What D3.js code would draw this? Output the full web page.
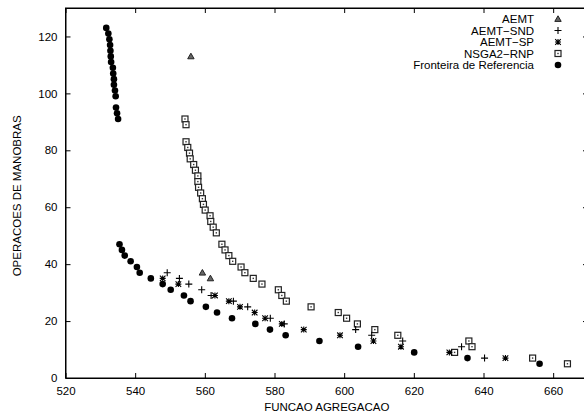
<!DOCTYPE html>
<html>
<head>
<meta charset="utf-8">
<script src="https://cdn.jsdelivr.net/npm/d3@7"></script>
<style>
  body { margin: 0; background: #fff; }
  svg { font-family: "Liberation Sans", Arial, sans-serif; }
  .axis path, .axis line { stroke: #000; }
</style>
</head>
<body>
<div id="chart"></div>
<script>
// Scatter of pareto fronts (gnuplot style)

// AEMT (triangles)
var aemtX = [556.0, 559.3, 561.6];
var aemtY = [113, 37, 35];

// AEMT-SND (plus)
var sndX = [549.2, 552.7, 555.4, 559.1, 561.8, 568.2, 572.3, 578.8, 582.8, 603.3, 607.9, 616.8, 633.7, 640.3];
var sndY = [37, 35, 33, 31, 29, 27, 25, 21, 19, 17, 15, 13, 11, 7];

// AEMT-SP (asterisk)
var spX = [547.9, 552.4, 562.9, 566.9, 570.1, 574.3, 577.3, 582.1, 588.4, 598.8, 608.4, 616.3, 630.2, 646.3];
var spY = [35, 33, 29, 27, 25, 23, 21, 19, 17, 15, 13, 11, 9, 7];

// NSGA2-RNP (boxes)
var nsgaX = [554.3, 554.6, 554.6, 555.1, 555.6, 555.8, 556.8, 557.3, 558.0, 558.0, 558.2, 558.8, 559.3, 559.6, 560.1,
  561.5, 561.7, 562.4, 563.3, 564.9, 565.8, 566.9, 568.0, 570.4, 571.5, 573.9, 576.4, 581.1, 582.1, 583.4,
  590.5, 598.3, 600.7, 603.8, 608.8, 615.4, 635.8, 636.7, 631.7, 654.1, 664.1];
var nsgaY = [91, 89, 83, 81, 79, 77, 75, 73, 71, 69, 67, 65, 63, 61, 59,
  57, 55, 53, 51, 47, 45, 43, 41, 39, 37, 35, 33, 31, 29, 27,
  25, 23, 21, 19, 17, 15, 13, 11, 9, 7, 5];

// Fronteira de Referencia (dots)
var refX = [531.7, 532.3, 532.6, 532.8, 532.9, 533.0, 533.1, 533.6, 533.7, 533.9, 533.9, 534.2, 534.4, 534.5, 534.8, 535.1,
  535.5, 536.2, 537.0, 538.7, 540.5, 541.3, 544.5, 547.9, 550.2, 554.0, 555.9, 560.3, 563.5, 567.8, 574.5,
  578.7, 583.2, 592.9, 604.0, 620.1, 635.4, 656.1];
var refY = [123, 121, 119, 117, 115, 113, 111, 109, 107, 105, 103, 101, 99, 95, 93, 91,
  47, 45, 43, 41, 39, 37, 35, 33, 31, 29, 27, 25, 23, 21, 19,
  17, 15, 13, 11, 9, 7, 5];

var xTicks = [520, 540, 560, 580, 600, 620, 640, 660];
var yTicks = [0, 20, 40, 60, 80, 100, 120];

var seriesNames = ["AEMT", "AEMT\u2212SND", "AEMT\u2212SP", "NSGA2\u2212RNP", "Fronteira de Referencia"];
var seriesKeys = ["tri", "plus", "star", "box", "dot"];

var width = 584, height = 417;
var margin = {top: 8, right: -4, bottom: 39, left: 65.5};

var svg = d3.select("#chart").append("svg")
  .attr("width", width)
  .attr("height", height);

var x = d3.scaleLinear().domain([520, 670]).range([margin.left, width - margin.right]);
var y = d3.scaleLinear().domain([0, 130]).range([height - margin.bottom, margin.top]);

// frame
svg.append("rect")
  .attr("x", x(520)).attr("y", y(130))
  .attr("width", x(670) - x(520)).attr("height", y(0) - y(130))
  .attr("fill", "none").attr("stroke", "#000").attr("stroke-width", 1);

// axes with inward ticks
var xAxis = svg.append("g").attr("class", "axis")
  .attr("transform", "translate(0," + y(0) + ")")
  .call(d3.axisBottom(x).tickValues(xTicks).tickSize(-5).tickPadding(9).tickSizeOuter(0));
var xTop = svg.append("g").attr("class", "axis")
  .attr("transform", "translate(0," + y(130) + ")")
  .call(d3.axisTop(x).tickValues(xTicks).tickSize(-5).tickFormat("").tickSizeOuter(0));
var yAxis = svg.append("g").attr("class", "axis")
  .attr("transform", "translate(" + x(520) + ",0)")
  .call(d3.axisLeft(y).tickValues(yTicks).tickSize(-5).tickPadding(8).tickSizeOuter(0));
var yRight = svg.append("g").attr("class", "axis")
  .attr("transform", "translate(" + x(670) + ",0)")
  .call(d3.axisRight(y).tickValues(yTicks).tickSize(-5).tickFormat("").tickSizeOuter(0));

svg.selectAll(".axis path").attr("stroke", "none");
svg.selectAll(".axis text")
  .attr("fill", "#000")
  .style("font-size", "11.5px")
  .style("font-family", "'Liberation Sans', Arial, sans-serif");

// axis titles
svg.append("text")
  .attr("x", x(595)).attr("y", 411)
  .attr("text-anchor", "middle")
  .style("font-size", "11.5px")
  .text("FUNCAO AGREGACAO");
svg.append("text")
  .attr("transform", "translate(21," + y(64) + ") rotate(-90)")
  .attr("text-anchor", "middle")
  .style("font-size", "11.5px")
  .text("OPERACOES DE MANOBRAS");

// marker drawers
function drawMarker(g, kind) {
  if (kind === "dot") {
    g.append("circle").attr("r", 3.3).attr("fill", "#000");
  } else if (kind === "box") {
    g.append("rect").attr("x", -3).attr("y", -3).attr("width", 6).attr("height", 6)
      .attr("fill", "#fff").attr("stroke", "#222").attr("stroke-width", 1.2);
    g.append("rect").attr("x", -0.7).attr("y", -0.7).attr("width", 1.4).attr("height", 1.4)
      .attr("fill", "#333");
  } else if (kind === "tri") {
    g.append("path").attr("d", "M0,-3.2L3.2,2.4L-3.2,2.4Z")
      .attr("fill", "#666").attr("stroke", "#222").attr("stroke-width", 1);
  } else if (kind === "plus") {
    g.append("path").attr("d", "M-3.5,0H3.5M0,-3.5V3.5")
      .attr("stroke", "#000").attr("stroke-width", 1.1);
  } else if (kind === "star") {
    g.append("path").attr("d", "M-3,0H3M0,-3V3M-2.8,-2.8L2.8,2.8M-2.8,2.8L2.8,-2.8")
      .attr("stroke", "#000").attr("stroke-width", 1.1);
  }
}

function plotSeries(xs, ys, kind) {
  var pts = xs.map(function(v, i) { return [v, ys[i]]; });
  svg.append("g").selectAll("g")
    .data(pts)
    .enter().append("g")
    .attr("transform", function(d) { return "translate(" + x(d[0]) + "," + y(d[1]) + ")"; })
    .each(function() { drawMarker(d3.select(this), kind); });
}

plotSeries(refX, refY, "dot");
plotSeries(nsgaX, nsgaY, "box");
plotSeries(spX, spY, "star");
plotSeries(sndX, sndY, "plus");
plotSeries(aemtX, aemtY, "tri");

// legend
var legend = svg.append("g");
seriesNames.forEach(function(name, i) {
  var ly = 19 + i * 11.5;
  legend.append("text")
    .attr("x", 534).attr("y", ly).attr("dy", "0.35em")
    .attr("text-anchor", "end")
    .style("font-size", "11.5px")
    .text(name);
  var g = legend.append("g").attr("transform", "translate(558," + ly + ")");
  drawMarker(g, seriesKeys[i]);
});
</script>
</body>
</html>
